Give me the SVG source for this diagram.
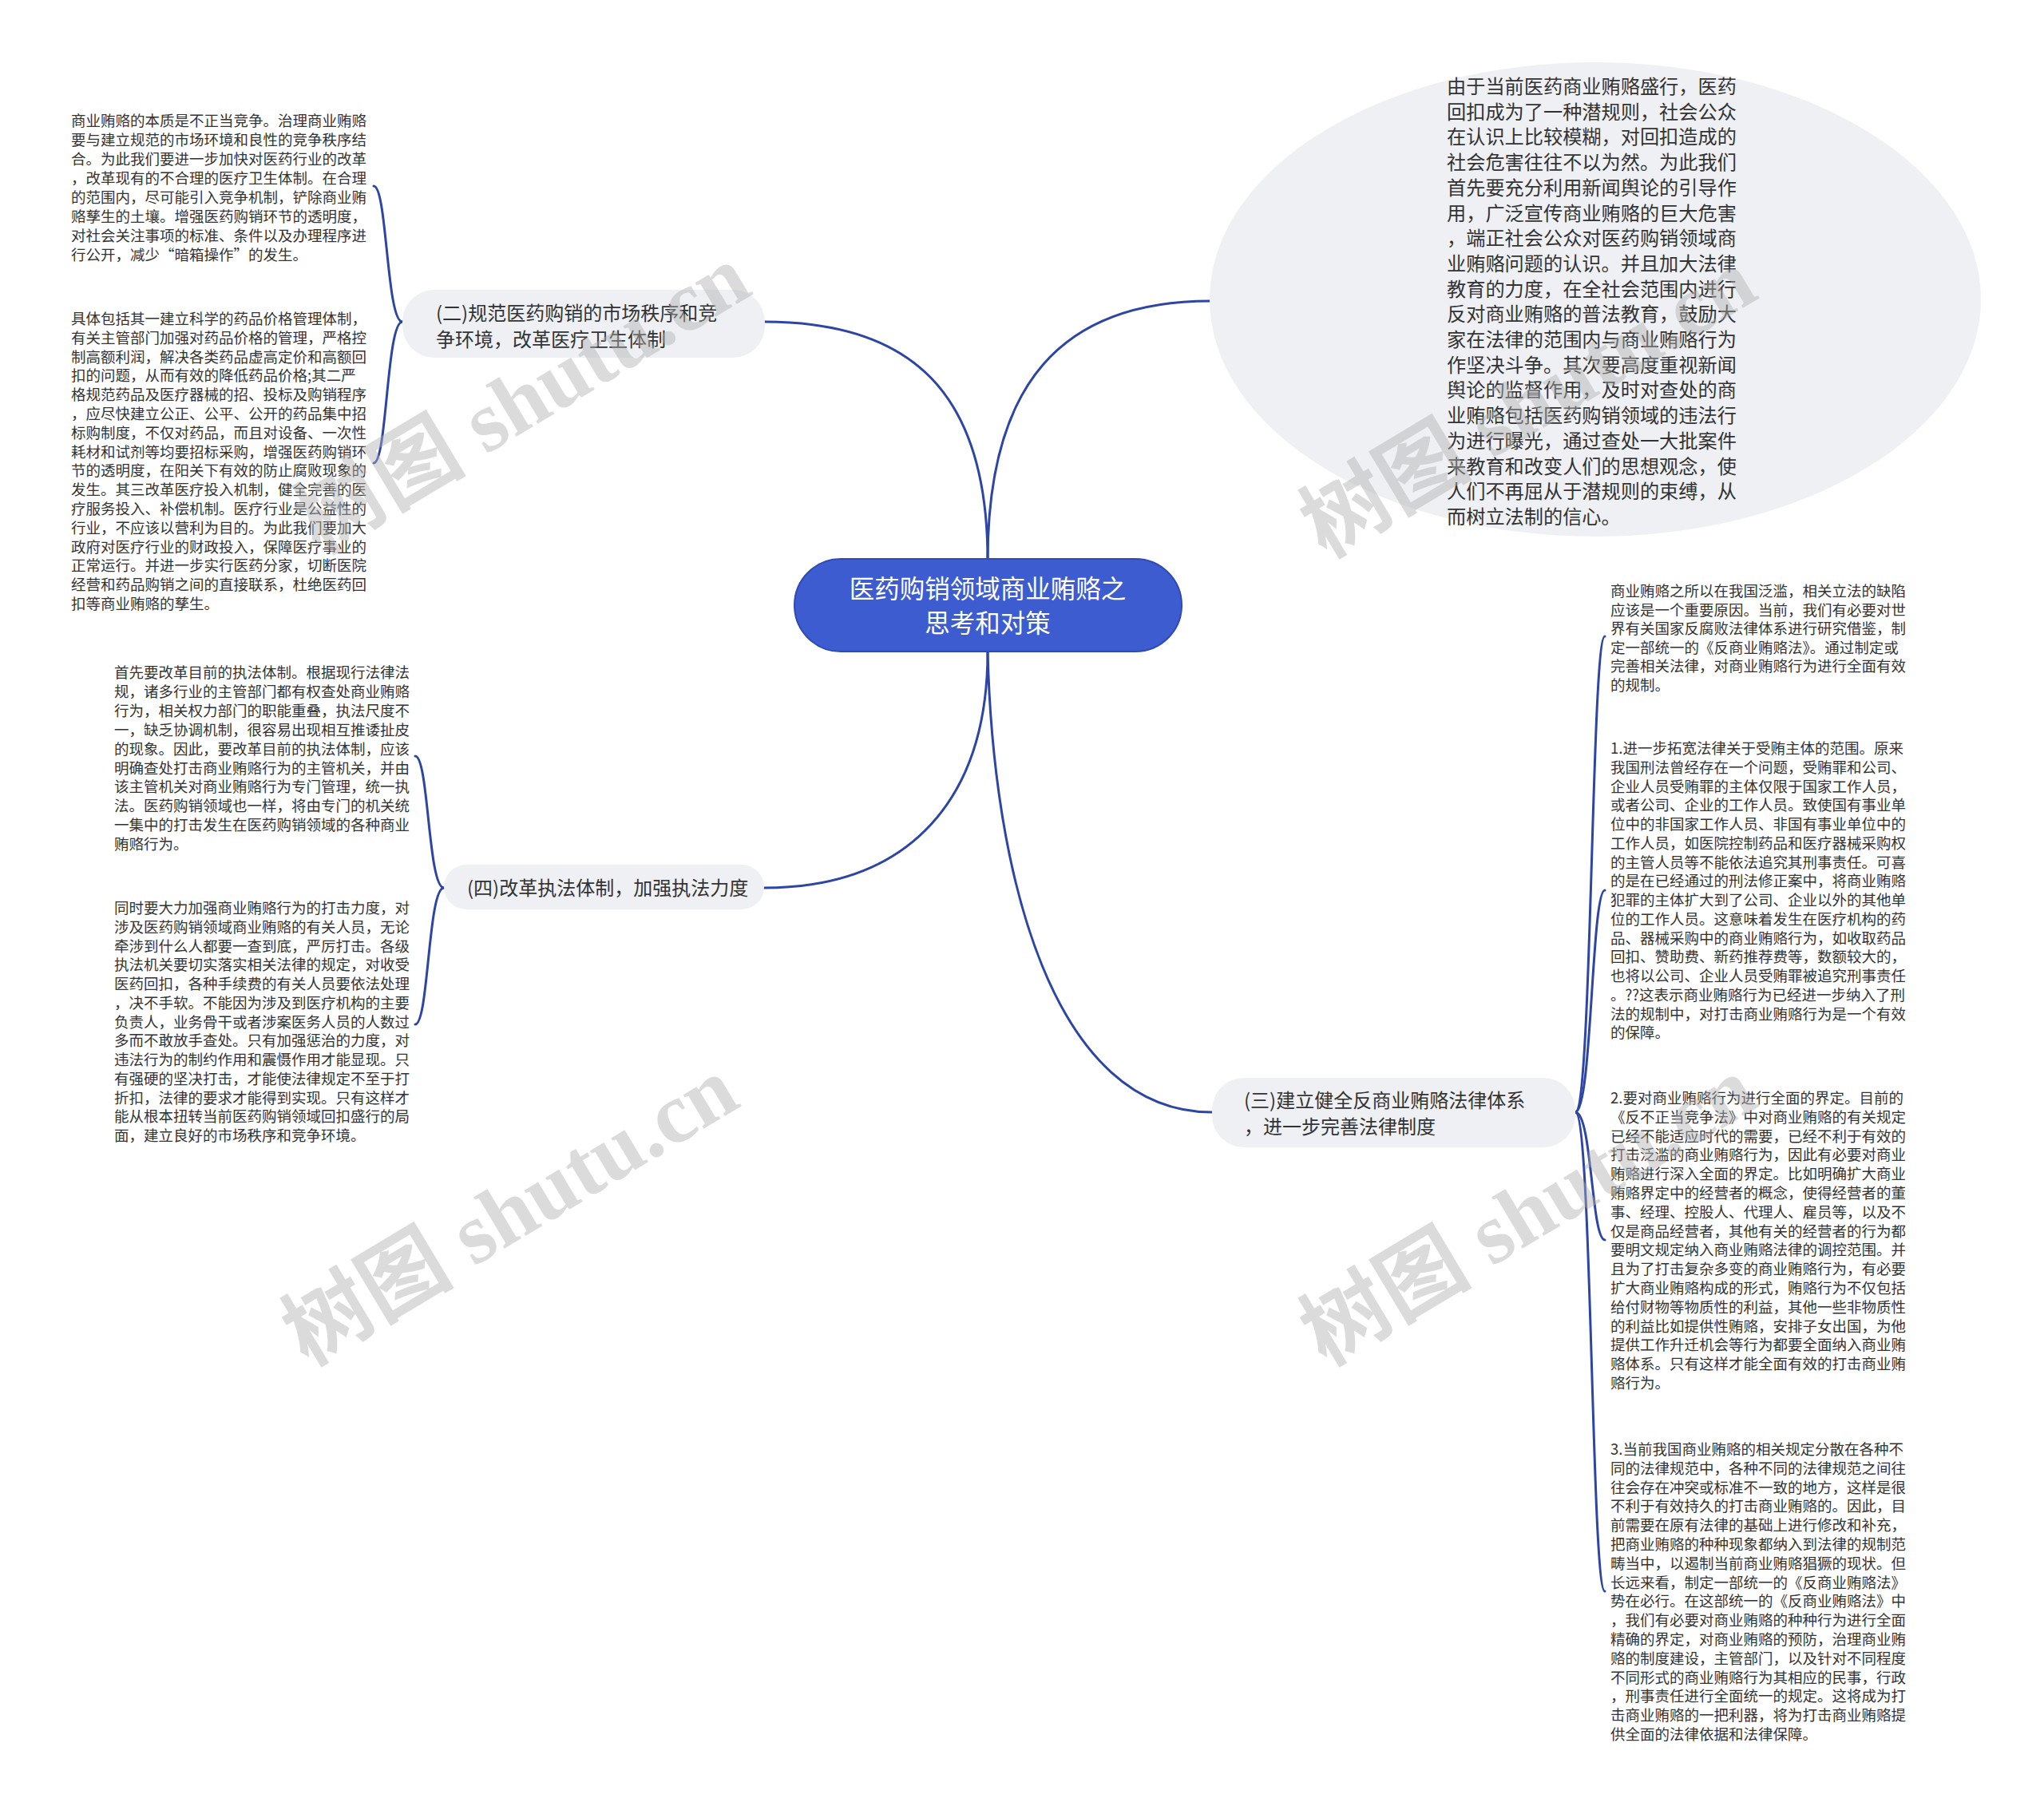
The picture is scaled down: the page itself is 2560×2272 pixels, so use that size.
<svg xmlns="http://www.w3.org/2000/svg" width="2560" height="2272" viewBox="0 0 2560 2272">
<style>
text{font-family:"Noto Sans CJK SC","Noto Sans",sans-serif;}
.leaf{font-size:18.5px;fill:#333;}
.br{font-size:24px;fill:#333;}
.el{font-size:24.2px;fill:#333;}
.ct{font-size:31.5px;fill:#fff;}
.sub{fill:#eef0f4;}
.ln{fill:none;stroke:#2d45a5;stroke-width:3;stroke-linecap:round;}
.wm{font-family:"Liberation Serif","Noto Sans CJK SC",serif;font-size:108px;font-weight:bold;fill:#b0b0b0;opacity:0.45;}
</style>
<rect width="2560" height="2272" fill="#fff"/>
<g id="connectors">
<path class="ln" d="M1237,702 C1237,480 1330,377 1516,377"/>
<path class="ln" d="M1237,702 C1237,490 1140,403 958,403"/>
<path class="ln" d="M1237,816 C1237,1000 1140,1112 957,1112"/>
<path class="ln" d="M1237,816 C1244,1100 1320,1393 1518,1393"/>
<path class="ln" d="M504,403 C484,403 485,233 468,233"/>
<path class="ln" d="M504,403 C484,403 485,580 468,580"/>
<path class="ln" d="M556,1112 C536,1112 537,947 520,947"/>
<path class="ln" d="M556,1112 C536,1112 537,1283 520,1283"/>
<path class="ln" d="M1973,1393 C1994,1393 1993,797 2010,797"/>
<path class="ln" d="M1973,1393 C1994,1393 1993,1115 2010,1115"/>
<path class="ln" d="M1973,1393 C1994,1393 1993,1553 2010,1553"/>
<path class="ln" d="M1973,1393 C1994,1393 1993,1993 2010,1993"/>
</g>
<g id="root">
<rect x="995" y="700" width="485" height="116" rx="58" fill="#3d5ccf" stroke="#2f4ab5" stroke-width="2"/>
<text class="ct" text-anchor="middle"><tspan x="1237" y="749">医药购销领域商业贿赂之</tspan><tspan x="1237" y="792">思考和对策</tspan></text>
</g>
<g id="n-top">
<ellipse cx="1998" cy="375" rx="483" ry="297" class="sub"/>
<text class="el"><tspan x="1812" y="117">由于当前医药商业贿赂盛行，医药</tspan><tspan x="1812" dy="31.7">回扣成为了一种潜规则，社会公众</tspan><tspan x="1812" dy="31.7">在认识上比较模糊，对回扣造成的</tspan><tspan x="1812" dy="31.7">社会危害往往不以为然。为此我们</tspan><tspan x="1812" dy="31.7">首先要充分利用新闻舆论的引导作</tspan><tspan x="1812" dy="31.7">用，广泛宣传商业贿赂的巨大危害</tspan><tspan x="1812" dy="31.7">，端正社会公众对医药购销领域商</tspan><tspan x="1812" dy="31.7">业贿赂问题的认识。并且加大法律</tspan><tspan x="1812" dy="31.7">教育的力度，在全社会范围内进行</tspan><tspan x="1812" dy="31.7">反对商业贿赂的普法教育，鼓励大</tspan><tspan x="1812" dy="31.7">家在法律的范围内与商业贿赂行为</tspan><tspan x="1812" dy="31.7">作坚决斗争。其次要高度重视新闻</tspan><tspan x="1812" dy="31.7">舆论的监督作用，及时对查处的商</tspan><tspan x="1812" dy="31.7">业贿赂包括医药购销领域的违法行</tspan><tspan x="1812" dy="31.7">为进行曝光，通过查处一大批案件</tspan><tspan x="1812" dy="31.7">来教育和改变人们的思想观念，使</tspan><tspan x="1812" dy="31.7">人们不再屈从于潜规则的束缚，从</tspan><tspan x="1812" dy="31.7">而树立法制的信心。</tspan></text>
</g>
<g id="n2">
<rect x="504" y="363" width="454" height="85" rx="40" class="sub"/>
<text class="br"><tspan x="546" y="401">(二)规范医药购销的市场秩序和竞</tspan><tspan x="546" y="434">争环境，改革医疗卫生体制</tspan></text>
</g>
<g id="n4">
<rect x="556" y="1083" width="401" height="56" rx="28" class="sub"/>
<text class="br" x="585" y="1120.5">(四)改革执法体制，加强执法力度</text>
</g>
<g id="n3">
<rect x="1518" y="1350" width="455" height="87" rx="40" class="sub"/>
<text class="br"><tspan x="1558" y="1387">(三)建立健全反商业贿赂法律体系</tspan><tspan x="1558" y="1419.5">，进一步完善法律制度</tspan></text>
</g>
<g id="leaf-a">
<text class="leaf"><tspan x="89" y="158">商业贿赂的本质是不正当竞争。治理商业贿赂</tspan><tspan x="89" dy="24">要与建立规范的市场环境和良性的竞争秩序结</tspan><tspan x="89" dy="24">合。为此我们要进一步加快对医药行业的改革</tspan><tspan x="89" dy="24">，改革现有的不合理的医疗卫生体制。在合理</tspan><tspan x="89" dy="24">的范围内，尽可能引入竞争机制，铲除商业贿</tspan><tspan x="89" dy="24">赂孳生的土壤。增强医药购销环节的透明度，</tspan><tspan x="89" dy="24">对社会关注事项的标准、条件以及办理程序进</tspan><tspan x="89" dy="24">行公开，减少“暗箱操作”的发生。</tspan></text>
</g>
<g id="leaf-b">
<text class="leaf"><tspan x="89" y="406">具体包括其一建立科学的药品价格管理体制，</tspan><tspan x="89" dy="23.8">有关主管部门加强对药品价格的管理，严格控</tspan><tspan x="89" dy="23.8">制高额利润，解决各类药品虚高定价和高额回</tspan><tspan x="89" dy="23.8">扣的问题，从而有效的降低药品价格;其二严</tspan><tspan x="89" dy="23.8">格规范药品及医疗器械的招、投标及购销程序</tspan><tspan x="89" dy="23.8">，应尽快建立公正、公平、公开的药品集中招</tspan><tspan x="89" dy="23.8">标购制度，不仅对药品，而且对设备、一次性</tspan><tspan x="89" dy="23.8">耗材和试剂等均要招标采购，增强医药购销环</tspan><tspan x="89" dy="23.8">节的透明度，在阳关下有效的防止腐败现象的</tspan><tspan x="89" dy="23.8">发生。其三改革医疗投入机制，健全完善的医</tspan><tspan x="89" dy="23.8">疗服务投入、补偿机制。医疗行业是公益性的</tspan><tspan x="89" dy="23.8">行业，不应该以营利为目的。为此我们要加大</tspan><tspan x="89" dy="23.8">政府对医疗行业的财政投入，保障医疗事业的</tspan><tspan x="89" dy="23.8">正常运行。并进一步实行医药分家，切断医院</tspan><tspan x="89" dy="23.8">经营和药品购销之间的直接联系，杜绝医药回</tspan><tspan x="89" dy="23.8">扣等商业贿赂的孳生。</tspan></text>
</g>
<g id="leaf-c">
<text class="leaf"><tspan x="143" y="849">首先要改革目前的执法体制。根据现行法律法</tspan><tspan x="143" dy="23.9">规，诸多行业的主管部门都有权查处商业贿赂</tspan><tspan x="143" dy="23.9">行为，相关权力部门的职能重叠，执法尺度不</tspan><tspan x="143" dy="23.9">一，缺乏协调机制，很容易出现相互推诿扯皮</tspan><tspan x="143" dy="23.9">的现象。因此，要改革目前的执法体制，应该</tspan><tspan x="143" dy="23.9">明确查处打击商业贿赂行为的主管机关，并由</tspan><tspan x="143" dy="23.9">该主管机关对商业贿赂行为专门管理，统一执</tspan><tspan x="143" dy="23.9">法。医药购销领域也一样，将由专门的机关统</tspan><tspan x="143" dy="23.9">一集中的打击发生在医药购销领域的各种商业</tspan><tspan x="143" dy="23.9">贿赂行为。</tspan></text>
</g>
<g id="leaf-d">
<text class="leaf"><tspan x="143" y="1144">同时要大力加强商业贿赂行为的打击力度，对</tspan><tspan x="143" dy="23.75">涉及医药购销领域商业贿赂的有关人员，无论</tspan><tspan x="143" dy="23.75">牵涉到什么人都要一查到底，严厉打击。各级</tspan><tspan x="143" dy="23.75">执法机关要切实落实相关法律的规定，对收受</tspan><tspan x="143" dy="23.75">医药回扣，各种手续费的有关人员要依法处理</tspan><tspan x="143" dy="23.75">，决不手软。不能因为涉及到医疗机构的主要</tspan><tspan x="143" dy="23.75">负责人，业务骨干或者涉案医务人员的人数过</tspan><tspan x="143" dy="23.75">多而不敢放手查处。只有加强惩治的力度，对</tspan><tspan x="143" dy="23.75">违法行为的制约作用和震慑作用才能显现。只</tspan><tspan x="143" dy="23.75">有强硬的坚决打击，才能使法律规定不至于打</tspan><tspan x="143" dy="23.75">折扣，法律的要求才能得到实现。只有这样才</tspan><tspan x="143" dy="23.75">能从根本扭转当前医药购销领域回扣盛行的局</tspan><tspan x="143" dy="23.75">面，建立良好的市场秩序和竞争环境。</tspan></text>
</g>
<g id="leaf-e">
<text class="leaf"><tspan x="2017" y="747">商业贿赂之所以在我国泛滥，相关立法的缺陷</tspan><tspan x="2017" dy="23.5">应该是一个重要原因。当前，我们有必要对世</tspan><tspan x="2017" dy="23.5">界有关国家反腐败法律体系进行研究借鉴，制</tspan><tspan x="2017" dy="23.5">定一部统一的《反商业贿赂法》。通过制定或</tspan><tspan x="2017" dy="23.5">完善相关法律，对商业贿赂行为进行全面有效</tspan><tspan x="2017" dy="23.5">的规制。</tspan></text>
</g>
<g id="leaf-f">
<text class="leaf"><tspan x="2017" y="944">1.进一步拓宽法律关于受贿主体的范围。原来</tspan><tspan x="2017" dy="23.75">我国刑法曾经存在一个问题，受贿罪和公司、</tspan><tspan x="2017" dy="23.75">企业人员受贿罪的主体仅限于国家工作人员，</tspan><tspan x="2017" dy="23.75">或者公司、企业的工作人员。致使国有事业单</tspan><tspan x="2017" dy="23.75">位中的非国家工作人员、非国有事业单位中的</tspan><tspan x="2017" dy="23.75">工作人员，如医院控制药品和医疗器械采购权</tspan><tspan x="2017" dy="23.75">的主管人员等不能依法追究其刑事责任。可喜</tspan><tspan x="2017" dy="23.75">的是在已经通过的刑法修正案中，将商业贿赂</tspan><tspan x="2017" dy="23.75">犯罪的主体扩大到了公司、企业以外的其他单</tspan><tspan x="2017" dy="23.75">位的工作人员。这意味着发生在医疗机构的药</tspan><tspan x="2017" dy="23.75">品、器械采购中的商业贿赂行为，如收取药品</tspan><tspan x="2017" dy="23.75">回扣、赞助费、新药推荐费等，数额较大的，</tspan><tspan x="2017" dy="23.75">也将以公司、企业人员受贿罪被追究刑事责任</tspan><tspan x="2017" dy="23.75">。??这表示商业贿赂行为已经进一步纳入了刑</tspan><tspan x="2017" dy="23.75">法的规制中，对打击商业贿赂行为是一个有效</tspan><tspan x="2017" dy="23.75">的保障。</tspan></text>
</g>
<g id="leaf-g">
<text class="leaf"><tspan x="2017" y="1382">2.要对商业贿赂行为进行全面的界定。目前的</tspan><tspan x="2017" dy="23.8">《反不正当竞争法》中对商业贿赂的有关规定</tspan><tspan x="2017" dy="23.8">已经不能适应时代的需要，已经不利于有效的</tspan><tspan x="2017" dy="23.8">打击泛滥的商业贿赂行为，因此有必要对商业</tspan><tspan x="2017" dy="23.8">贿赂进行深入全面的界定。比如明确扩大商业</tspan><tspan x="2017" dy="23.8">贿赂界定中的经营者的概念，使得经营者的董</tspan><tspan x="2017" dy="23.8">事、经理、控股人、代理人、雇员等，以及不</tspan><tspan x="2017" dy="23.8">仅是商品经营者，其他有关的经营者的行为都</tspan><tspan x="2017" dy="23.8">要明文规定纳入商业贿赂法律的调控范围。并</tspan><tspan x="2017" dy="23.8">且为了打击复杂多变的商业贿赂行为，有必要</tspan><tspan x="2017" dy="23.8">扩大商业贿赂构成的形式，贿赂行为不仅包括</tspan><tspan x="2017" dy="23.8">给付财物等物质性的利益，其他一些非物质性</tspan><tspan x="2017" dy="23.8">的利益比如提供性贿赂，安排子女出国，为他</tspan><tspan x="2017" dy="23.8">提供工作升迁机会等行为都要全面纳入商业贿</tspan><tspan x="2017" dy="23.8">赂体系。只有这样才能全面有效的打击商业贿</tspan><tspan x="2017" dy="23.8">赂行为。</tspan></text>
</g>
<g id="leaf-h">
<text class="leaf"><tspan x="2017" y="1822">3.当前我国商业贿赂的相关规定分散在各种不</tspan><tspan x="2017" dy="23.8">同的法律规范中，各种不同的法律规范之间往</tspan><tspan x="2017" dy="23.8">往会存在冲突或标准不一致的地方，这样是很</tspan><tspan x="2017" dy="23.8">不利于有效持久的打击商业贿赂的。因此，目</tspan><tspan x="2017" dy="23.8">前需要在原有法律的基础上进行修改和补充，</tspan><tspan x="2017" dy="23.8">把商业贿赂的种种现象都纳入到法律的规制范</tspan><tspan x="2017" dy="23.8">畴当中，以遏制当前商业贿赂猖獗的现状。但</tspan><tspan x="2017" dy="23.8">长远来看，制定一部统一的《反商业贿赂法》</tspan><tspan x="2017" dy="23.8">势在必行。在这部统一的《反商业贿赂法》中</tspan><tspan x="2017" dy="23.8">，我们有必要对商业贿赂的种种行为进行全面</tspan><tspan x="2017" dy="23.8">精确的界定，对商业贿赂的预防，治理商业贿</tspan><tspan x="2017" dy="23.8">赂的制度建设，主管部门，以及针对不同程度</tspan><tspan x="2017" dy="23.8">不同形式的商业贿赂行为其相应的民事，行政</tspan><tspan x="2017" dy="23.8">，刑事责任进行全面统一的规定。这将成为打</tspan><tspan x="2017" dy="23.8">击商业贿赂的一把利器，将为打击商业贿赂提</tspan><tspan x="2017" dy="23.8">供全面的法律依据和法律保障。</tspan></text>
</g>
<g id="watermarks">
<text class="wm" transform="translate(400,695) rotate(-31)">树图 shutu.cn</text>
<text class="wm" transform="translate(385,1712) rotate(-31)">树图 shutu.cn</text>
<text class="wm" transform="translate(1660,700) rotate(-31)">树图 shutu.cn</text>
<text class="wm" transform="translate(1660,1712) rotate(-31)">树图 shutu.cn</text>
</g>
</svg>
